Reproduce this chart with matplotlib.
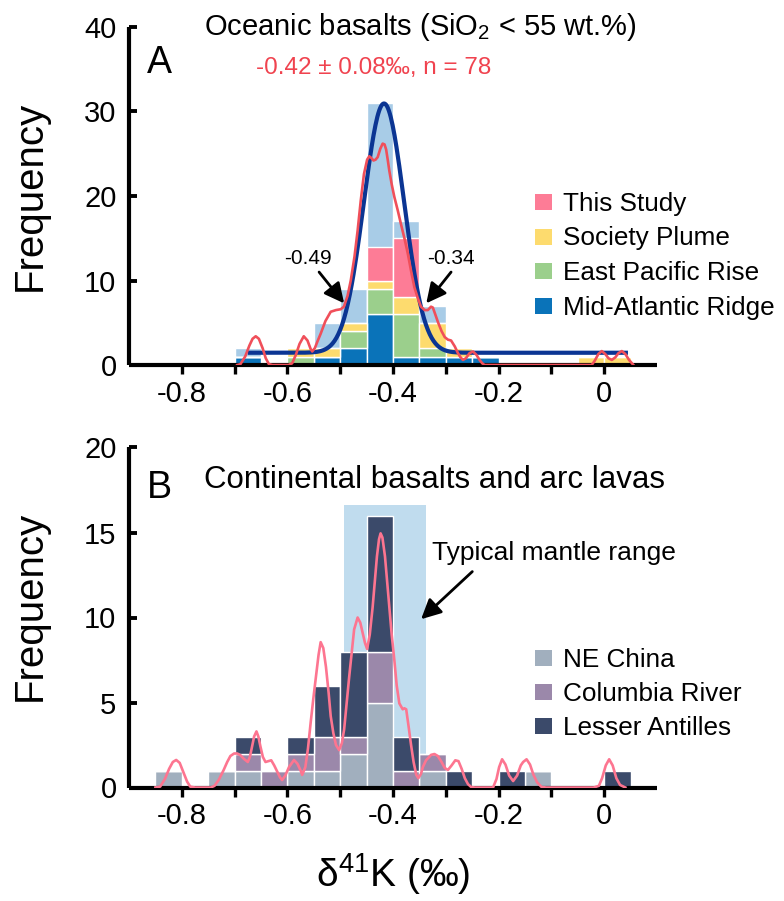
import numpy as np
import matplotlib
matplotlib.use('Agg')
import matplotlib.pyplot as plt
from matplotlib.patches import Rectangle

plt.rcParams['font.family'] = ['Liberation Sans', 'DejaVu Sans']
plt.rcParams['mathtext.fontset'] = 'custom'
plt.rcParams['mathtext.rm'] = 'Liberation Sans'
plt.rcParams['mathtext.it'] = 'Liberation Sans:italic'
plt.rcParams['mathtext.bf'] = 'Liberation Sans:bold'
plt.rcParams['axes.unicode_minus'] = False

# ---------------- data ----------------
bin_width = 0.05

# Panel A: oceanic basalts
a_bin_left = [-0.70, -0.65, -0.60, -0.55, -0.50, -0.45, -0.40, -0.35, -0.30,
              -0.25, -0.20, -0.15, -0.10, -0.05, 0.00]
a_total = [2, 0, 2, 5, 9, 31, 17, 7, 2, 1, 0, 0, 0, 1, 1]
a_mar = [1, 0, 0, 1, 2, 6, 1, 1, 1, 1, 0, 0, 0, 0, 0]
a_epr = [0, 0, 1, 0, 2, 3, 5, 1, 0, 0, 0, 0, 0, 0, 0]
a_soc = [0, 0, 1, 1, 1, 1, 2, 3, 1, 0, 0, 0, 0, 1, 1]
a_ts = [0, 0, 0, 0, 0, 4, 7, 0, 0, 0, 0, 0, 0, 0, 0]
a_labels = ['This Study', 'Society Plume', 'East Pacific Rise', 'Mid-Atlantic Ridge']

# Gaussian fit (panel A)
fit_mean = -0.417
fit_sigma = 0.038
fit_amp = 29.5
fit_base = 1.45
fit_range = (-0.675, 0.045)

# KDE curve (panel A)
a_kde_x = [-0.695, -0.689, -0.680, -0.672, -0.666, -0.660, -0.654, -0.647, -0.641, -0.635,
           -0.628, -0.598, -0.591, -0.584, -0.577, -0.569, -0.562, -0.556, -0.553, -0.548,
           -0.543, -0.537, -0.528, -0.518, -0.508, -0.499, -0.493, -0.486, -0.480, -0.473,
           -0.467, -0.461, -0.455, -0.449, -0.445, -0.441, -0.437, -0.433, -0.429, -0.424,
           -0.4196, -0.416, -0.413, -0.410, -0.407, -0.4025, -0.3975, -0.391, -0.385, -0.378,
           -0.372, -0.366, -0.3595, -0.353, -0.347, -0.340, -0.334, -0.328, -0.3245, -0.320,
           -0.315, -0.308, -0.302, -0.296, -0.290, -0.283, -0.277, -0.272, -0.2675, -0.262,
           -0.255, -0.2485, -0.242, -0.236, -0.231, -0.2265, -0.0236, -0.018, -0.011, -0.0046,
           0.002, 0.008, 0.0144, 0.021, 0.027, 0.0334, 0.040, 0.047, 0.0553]
a_kde_y = [0.0, 0.1, 1.0, 2.3, 3.1, 3.4, 3.1, 2.0, 0.8, 0.1,
           0.0, 0.0, 0.2, 1.2, 2.5, 3.4, 2.9, 1.9, 1.6, 2.0,
           2.8, 3.7, 5.2, 6.3, 6.5, 6.6, 6.9, 8.2, 10.0, 12.8,
           15.9, 19.5, 22.6, 24.3, 24.7, 24.5, 24.2, 24.3, 24.6, 25.6,
           26.2, 26.1, 25.5, 24.3, 23.0, 21.4, 19.9, 18.3, 16.7, 14.9,
           13.2, 11.2, 9.2, 7.9, 6.9, 6.5, 6.5, 6.9, 6.8, 6.0,
           5.1, 4.0, 3.3, 3.0, 2.9, 2.2, 1.4, 0.9, 0.6, 0.8,
           1.4, 1.6, 1.2, 0.6, 0.2, 0.0, 0.0, 0.5, 1.3, 1.65,
           1.3, 0.8, 0.6, 0.9, 1.4, 1.65, 1.3, 0.6, 0.0]

# Panel B: continental basalts and arc lavas
b_bin_left = [-0.85, -0.80, -0.75, -0.70, -0.65, -0.60, -0.55, -0.50, -0.45,
              -0.40, -0.35, -0.30, -0.25, -0.20, -0.15, -0.10, -0.05, 0.00]
b_ne = [1, 0, 1, 1, 0, 1, 1, 2, 5, 0, 1, 0, 0, 0, 1, 0, 0, 0]
b_cr = [0, 0, 0, 1, 1, 1, 2, 1, 3, 1, 1, 0, 0, 0, 0, 0, 0, 0]
b_la = [0, 0, 0, 1, 0, 1, 3, 5, 8, 2, 0, 1, 0, 1, 0, 0, 0, 1]
b_labels = ['NE China', 'Columbia River', 'Lesser Antilles']
mantle_range = (-0.492, -0.337)
mantle_top = 16.6

b_kde_x = [-0.850, -0.841, -0.832, -0.824, -0.817, -0.8106, -0.804, -0.797, -0.790, -0.784,
           -0.775, -0.745, -0.738, -0.730, -0.7207, -0.714, -0.708, -0.701, -0.695, -0.689,
           -0.683, -0.675, -0.671, -0.667, -0.663, -0.6586, -0.655, -0.651, -0.6465, -0.6415,
           -0.636, -0.6306, -0.625, -0.6192, -0.614, -0.610, -0.604, -0.597, -0.5875, -0.581,
           -0.575, -0.572, -0.566, -0.561, -0.556, -0.551, -0.546, -0.541, -0.537, -0.532,
           -0.527, -0.522, -0.518, -0.513, -0.508, -0.502, -0.497, -0.4926, -0.488, -0.483,
           -0.478, -0.4736, -0.467, -0.462, -0.4576, -0.453, -0.449, -0.444, -0.4386, -0.4345,
           -0.4304, -0.4265, -0.4235, -0.420, -0.4152, -0.411, -0.407, -0.4025, -0.3975, -0.393,
           -0.388, -0.3816, -0.3785, -0.375, -0.3705, -0.3658, -0.361, -0.356, -0.352, -0.347,
           -0.3435, -0.3375, -0.3278, -0.3215, -0.315, -0.308, -0.302, -0.296, -0.289, -0.282,
           -0.276, -0.270, -0.264, -0.258, -0.252, -0.245, -0.2105, -0.204, -0.199, -0.1934,
           -0.187, -0.180, -0.1725, -0.165, -0.158, -0.1535, -0.147, -0.1405, -0.134, -0.127,
           -0.1186, -0.110, -0.020, -0.010, -0.004, 0.003, 0.0094, 0.016, 0.023, 0.030,
           0.040]
b_kde_y = [0.0, 0.05, 0.5, 1.1, 1.5, 1.62, 1.45, 0.9, 0.35, 0.05,
           0.0, 0.0, 0.1, 0.45, 1.03, 1.5, 1.85, 2.0, 2.0, 1.9,
           1.7, 1.5, 1.8, 2.4, 3.0, 3.3, 3.0, 2.4, 1.8, 1.5,
           1.55, 1.6, 1.3, 0.93, 0.6, 0.44, 0.7, 1.2, 1.62, 1.4,
           1.0, 0.74, 1.2, 2.3, 3.8, 5.2, 6.5, 7.8, 8.55, 8.2,
           7.1, 5.6, 4.2, 3.2, 2.5, 2.2, 2.6, 3.4, 4.9, 6.5,
           8.0, 9.3, 10.0, 9.7, 9.1, 8.5, 8.15, 9.0, 10.6, 12.1,
           13.6, 14.6, 14.95, 14.7, 13.6, 12.1, 10.6, 9.0, 7.5, 6.0,
           4.95, 4.6, 4.66, 4.6, 3.6, 2.5, 1.5, 0.75, 0.55, 0.8,
           1.2, 1.6, 1.92, 1.97, 1.85, 1.5, 1.15, 1.03, 1.3, 1.6,
           1.55, 1.1, 0.55, 0.2, 0.03, 0.0, 0.0, 0.5, 1.2, 1.66,
           1.35, 0.7, 0.38, 0.7, 1.3, 1.5, 1.66, 1.35, 0.75, 0.3,
           0.03, 0.0, 0.0, 0.1, 0.55, 1.3, 1.66, 1.3, 0.55, 0.15,
           0.0]

x_ticks = [-0.8, -0.7, -0.6, -0.5, -0.4, -0.3, -0.2, -0.1, 0.0]
x_ticklabels = ['-0.8', '', '-0.6', '', '-0.4', '', '-0.2', '', '0']
a_yticks = [0, 10, 20, 30, 40]
b_yticks = [0, 5, 10, 15, 20]

# ---------------- style ----------------
c_total = '#a8cce7'
c_ts = '#fd7c96'
c_soc = '#fddb6e'
c_epr = '#9bcf8c'
c_mar = '#0a73b9'
c_fit = '#0b3593'
c_kdeA = '#f04f5a'
c_ne = '#a1afbe'
c_cr = '#9b88aa'
c_la = '#3b4a6a'
c_kdeB = '#fd7590'
c_band = '#c0dcee'
c_red_text = '#f0434f'

W, H = 784, 901
fig = plt.figure(figsize=(W / 100, H / 100), dpi=100)


def ax_rect(l, r, t, b):
    return [l / W, 1 - b / H, (r - l) / W, (b - t) / H]


axA = fig.add_axes(ax_rect(129, 657, 27, 365))
axB = fig.add_axes(ax_rect(129, 657, 447.5, 787.5))

for ax in (axA, axB):
    ax.spines['top'].set_visible(False)
    ax.spines['right'].set_visible(False)
    for s in ('left', 'bottom'):
        ax.spines[s].set_linewidth(3.0)
        ax.spines[s].set_capstyle('butt')
    ax.set_xlim(-0.9, 0.1)
    ax.set_xticks(x_ticks)
    ax.set_xticklabels(x_ticklabels)
    ax.tick_params(axis='x', direction='out', length=6.5, width=2.4, labelsize=21, pad=4)
    ax.tick_params(axis='y', direction='in', length=5.8, width=2.8, labelsize=21, pad=9)
    ax.set_ylabel('Frequency', fontsize=29, va='center')

edge = dict(edgecolor='white', linewidth=1.0)

# ---- Panel A ----
axA.set_ylim(0, 40)
axA.set_yticks(a_yticks)
axA.bar(a_bin_left, a_total, width=bin_width, align='edge', color=c_total, zorder=1, **edge)
bottom = np.zeros(len(a_bin_left))
for vals, col in ((a_mar, c_mar), (a_epr, c_epr), (a_soc, c_soc), (a_ts, c_ts)):
    axA.bar(a_bin_left, vals, width=bin_width, bottom=bottom, align='edge', color=col,
            zorder=1.5, **edge)
    bottom = bottom + np.array(vals)

gx = np.linspace(fit_range[0], fit_range[1], 400)
gy = fit_base + fit_amp * np.exp(-0.5 * ((gx - fit_mean) / fit_sigma) ** 2)
axA.plot(gx, gy, color=c_fit, lw=3.0, zorder=3, solid_capstyle='butt')
axA.plot(a_kde_x, a_kde_y, color=c_kdeA, lw=1.9, zorder=4)

arrow_kw = dict(arrowstyle='-|>,head_length=0.6,head_width=0.3', color='black', lw=2.0,
                shrinkA=0, shrinkB=0, mutation_scale=20)
axA.annotate('', xy=(-0.4926, 7.3), xytext=(-0.54, 11.0), arrowprops=arrow_kw, zorder=5)
axA.annotate('', xy=(-0.337, 7.3), xytext=(-0.29, 11.0), arrowprops=arrow_kw, zorder=5)
axA.text(-0.561, 12.6, '-0.49', fontsize=15, ha='center', va='center')
axA.text(-0.29, 12.6, '-0.34', fontsize=15, ha='center', va='center')

axA.text(0.551, 0.976, r'Oceanic basalts (SiO$_\mathregular{2}$ < 55 wt.%)', fontsize=21,
         ha='center', va='baseline', transform=axA.transAxes)
axA.text(0.057, 0.864, 'A', fontsize=27, ha='center', va='baseline', transform=axA.transAxes)
axA.text(0.464, 0.861, '-0.42 ± 0.08‰, n = 78', fontsize=17.5, color=c_red_text,
         ha='center', va='baseline', transform=axA.transAxes)
axA.yaxis.set_label_coords(-0.188, 0.5)

# ---- Panel B ----
axB.set_ylim(0, 20)
axB.set_yticks(b_yticks)
axB.add_patch(Rectangle((mantle_range[0], 0), mantle_range[1] - mantle_range[0], mantle_top,
                        facecolor=c_band, edgecolor='none', zorder=0.5))
bottom = np.zeros(len(b_bin_left))
for vals, col in ((b_ne, c_ne), (b_cr, c_cr), (b_la, c_la)):
    v = np.array(vals)
    axB.bar(b_bin_left, v, width=bin_width, bottom=bottom, align='edge', color=col,
            zorder=1.5, **edge)
    bottom = bottom + v
axB.plot(b_kde_x, b_kde_y, color=c_kdeB, lw=1.9, zorder=4)
axB.annotate('', xy=(-0.3468, 9.9), xytext=(-0.2498, 12.7), arrowprops=arrow_kw, zorder=5)
axB.text(0.805, 0.669, 'Typical mantle range', fontsize=19, ha='center', va='baseline',
         transform=axB.transAxes)
axB.text(0.578, 0.881, 'Continental basalts and arc lavas', fontsize=22.5, ha='center',
         va='baseline', transform=axB.transAxes)
axB.text(0.057, 0.852, 'B', fontsize=27, ha='center', va='baseline', transform=axB.transAxes)
axB.yaxis.set_label_coords(-0.188, 0.534)
axB.set_xlabel(r'δ$^\mathregular{41}$K (‰)', fontsize=28, labelpad=15)

# ---- legends (manual) ----
def legend_rows(rows):
    for label, col, yc in rows:
        fig.add_artist(Rectangle((535 / W, 1 - (yc + 8) / H), 17 / W, 16 / H,
                                 transform=fig.transFigure, facecolor=col, edgecolor='none'))
        fig.text(563 / W, 1 - (yc + 9) / H, label, fontsize=18.8, ha='left', va='baseline')


legend_rows([(a_labels[0], c_ts, 202), (a_labels[1], c_soc, 236.5),
             (a_labels[2], c_epr, 271), (a_labels[3], c_mar, 305.5)])
legend_rows([(b_labels[0], c_ne, 658), (b_labels[1], c_cr, 692), (b_labels[2], c_la, 726)])

fig.savefig('out.png', dpi=100)
